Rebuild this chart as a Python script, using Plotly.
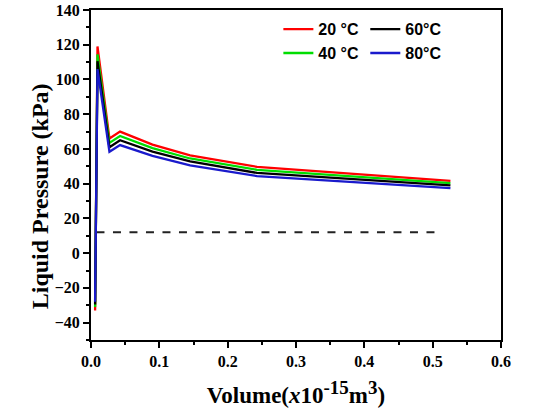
import plotly.graph_objects as go

# Volume (x10^-15 m^3) sample points shared by every temperature curve
volume = [0.006, 0.0095, 0.027, 0.0425, 0.09, 0.145, 0.243, 0.526]

# Liquid pressure (kPa) for each temperature
p_20 = [-33.0, 119.0, 66.0, 70.0, 62.5, 56.3, 49.7, 41.6]
p_40 = [-31.0, 114.5, 63.5, 67.5, 60.5, 54.5, 48.0, 40.3]
p_60 = [-29.5, 110.5, 61.0, 65.0, 58.5, 52.8, 46.2, 39.0]
p_80 = [-28.0, 106.0, 58.4, 62.2, 56.0, 50.5, 44.4, 37.4]

# Horizontal reference level
ref_x = [0.008, 0.515]
ref_p = [12.0, 12.0]

labels = ["20 °C", "40 °C", "60°C", "80°C"]
colors = ["#ff0000", "#00dd00", "#000000", "#1a1acc"]
series = [p_20, p_40, p_60, p_80]
legend_ids = ["legend", "legend", "legend2", "legend2"]

fig = go.Figure()

fig.add_trace(go.Scatter(
    x=ref_x, y=ref_p, mode="lines", showlegend=False,
    line=dict(color="#222222", width=2, dash="8px,8.5px"),
    hoverinfo="skip",
))

for name, col, ys, lg in zip(labels, colors, series, legend_ids):
    fig.add_trace(go.Scatter(
        x=volume, y=ys, mode="lines", name=name,
        line=dict(color=col, width=2.3),
        legend=lg,
    ))

tick_font = dict(family="Liberation Serif", size=16, color="black", weight="bold")
legend_font = dict(family="Liberation Sans", size=16, color="black", weight="bold")

fig.update_layout(
    width=534, height=411,
    margin=dict(l=91, r=33, t=10, b=71),
    paper_bgcolor="white", plot_bgcolor="white",
    legend=dict(
        x=0.457, y=0.993, xanchor="left", yanchor="top",
        font=legend_font, bgcolor="rgba(0,0,0,0)", tracegroupgap=0,
        itemwidth=30,
    ),
    legend2=dict(
        x=0.669, y=0.993, xanchor="left", yanchor="top",
        font=legend_font, bgcolor="rgba(0,0,0,0)", tracegroupgap=0,
        itemwidth=30,
    ),
    xaxis=dict(
        range=[0, 0.6], dtick=0.1, tickformat=".1f", automargin=False,
        showgrid=False, zeroline=False,
        showline=True, linecolor="black", linewidth=2, mirror=True,
        ticks="outside", ticklen=6, tickwidth=2, tickcolor="black",
        minor=dict(dtick=0.05, ticks="outside", ticklen=3, tickwidth=2, tickcolor="black"),
        tickfont=tick_font,
        title=dict(
            text=("Volume(<i>x</i>10<sup><span style='font-size:19px'>-15</span></sup>"
                  "m<sup><span style='font-size:19px'>3</span></sup>)"),
            font=dict(family="Liberation Serif", size=23, color="black", weight="bold"),
            standoff=18,
        ),
    ),
    yaxis=dict(
        range=[-50, 140], dtick=20, automargin=False,
        showgrid=False, zeroline=False,
        showline=True, linecolor="black", linewidth=2, mirror=True,
        ticks="outside", ticklen=6, tickwidth=2, tickcolor="black",
        minor=dict(dtick=10, ticks="outside", ticklen=3, tickwidth=2, tickcolor="black"),
        tickfont=tick_font,
    ),
    annotations=[dict(
        text="Liquid Pressure (kPa)", textangle=-90,
        xref="paper", yref="paper", x=-0.124, y=0.436,
        xanchor="center", yanchor="middle", showarrow=False,
        font=dict(family="Liberation Serif", size=24, color="black", weight="bold"),
    )],
)

fig.write_html("out.html")
